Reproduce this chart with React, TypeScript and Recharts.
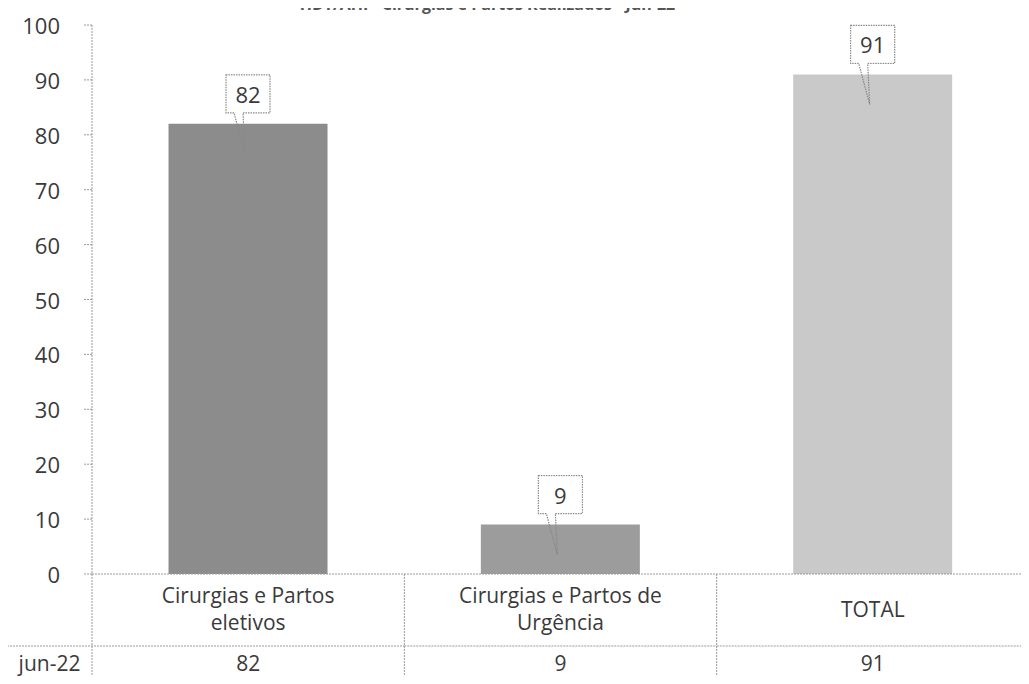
import React from "react";
import { BarChart, Bar, XAxis, YAxis, Cell, LabelList } from "recharts";

const categories = ["Cirurgias e Partos eletivos", "Cirurgias e Partos de Urgência", "TOTAL"];
const categoryLines = [["Cirurgias e Partos", "eletivos"], ["Cirurgias e Partos de", "Urgência"], ["TOTAL"]];
const values = [82, 9, 91];
const seriesName = "jun-22";
const yTicks = [0, 10, 20, 30, 40, 50, 60, 70, 80, 90, 100];
const barColors = ["#8c8c8c", "#9c9c9c", "#c9c9c9"];
const title = "HDT/AHI - Cirurgias e Partos Realizados - Jun-22";

const data = categories.map((c, i) => ({ name: c, value: values[i] }));

const FONT = "'Open Sans', sans-serif";
const LINE = "#9a9a9a";
const DASH = "2 1";
const TEXT = "#3a3a3a";

const YTick = (props: any) => {
  const { x, y, payload } = props;
  return (
    <text x={x - 22} y={y} textAnchor="end" dominantBaseline="central" fontFamily={FONT} fontSize={22} fill={TEXT}>
      {payload.value}
    </text>
  );
};

const XTick = (props: any) => {
  const { x, y, payload, index, width, visibleTicksCount } = props;
  const half = payload.offset || (width / (visibleTicksCount || categories.length)) / 2;
  const lines = categoryLines[index] || [payload.value];
  const rowY = y + 72;
  const bottom = 700;
  const left = x - half;
  const right = x + half;
  const last = index === categories.length - 1;
  return (
    <g>
      {!last && <line x1={right} y1={y} x2={right} y2={bottom} stroke={LINE} strokeDasharray={DASH} />}
      {index === 0 && <line x1={left} y1={y} x2={left} y2={bottom} stroke={LINE} strokeDasharray={DASH} />}
      <line x1={index === 0 ? 7 : left} y1={rowY} x2={right} y2={rowY} stroke={LINE} strokeDasharray={DASH} />
      {index === 0 && (
        <g>
          <line x1={7} y1={rowY} x2={7} y2={bottom} stroke={LINE} strokeDasharray={DASH} />
          <line x1={0} y1={683} x2={64} y2={683} stroke={LINE} strokeDasharray={DASH} />
          <text x={(7 + left) / 2} y={rowY + 17} textAnchor="middle" dominantBaseline="central" fontFamily={FONT} fontSize={21} fill={TEXT}>
            {seriesName}
          </text>
        </g>
      )}
      {lines.length === 1 ? (
        <text x={x} y={y + 35} textAnchor="middle" dominantBaseline="central" fontFamily={FONT} fontSize={21} fill={TEXT}>
          {lines[0]}
        </text>
      ) : (
        lines.map((l: string, i: number) => (
          <text key={i} x={x} y={y + 21 + i * 27} textAnchor="middle" dominantBaseline="central" fontFamily={FONT} fontSize={21} fill={TEXT}>
            {l}
          </text>
        ))
      )}
      <text x={x} y={rowY + 17} textAnchor="middle" dominantBaseline="central" fontFamily={FONT} fontSize={21} fill={TEXT}>
        {values[index]}
      </text>
    </g>
  );
};

const Callout = (props: any) => {
  const { x, y, width, value } = props;
  const cx = x + width / 2;
  const top = y - 49;
  const h = 38;
  const w = 44;
  const b = top + h;
  const l = cx - w / 2;
  const r = cx + w / 2;
  const tipY = y + 30;
  const d = `M${l},${top} H${r} V${b} H${cx - 5} L${cx - 3},${tipY} L${cx - 14},${b} H${l} Z`;
  return (
    <g>
      <path d={d} fill="none" stroke="#888" strokeDasharray="1.5 1" strokeWidth={1.2} />
      <rect x={l + 1} y={top + 1} width={w - 2} height={h - 2} fill="#fff" />
      <text x={cx} y={top + h / 2} textAnchor="middle" dominantBaseline="central" fontFamily={FONT} fontSize={22} fill={TEXT}>
        {value}
      </text>
    </g>
  );
};

export default function App() {
  return (
    <div style={{ position: "relative", margin: -8, width: 1029, height: 684, overflow: "hidden", background: "#fff" }}>
      <BarChart width={1029} height={684} data={data} margin={{ top: 25, right: 0, bottom: 0, left: 0 }} barCategoryGap="24.5%">
        <YAxis
          type="number"
          domain={[0, 100]}
          ticks={yTicks}
          width={92}
          tickSize={8}
          tick={<YTick />}
          axisLine={{ stroke: LINE, strokeDasharray: DASH }}
          tickLine={{ stroke: LINE, strokeDasharray: DASH }}
          interval={0}
        />
        <XAxis
          dataKey="name"
          type="category"
          height={110}
          tickSize={0}
          tickMargin={0}
          tickLine={false}
          interval={0}
          tick={<XTick />}
          axisLine={{ stroke: LINE, strokeDasharray: DASH }}
        />
        <Bar dataKey="value" isAnimationActive={false}>
          {data.map((d, i) => (
            <Cell key={d.name} fill={barColors[i]} />
          ))}
          <LabelList dataKey="value" content={<Callout />} />
        </Bar>
      </BarChart>
      <div
        style={{
          position: "absolute",
          top: -7,
          left: 0,
          width: 975,
          textAlign: "center",
          fontFamily: FONT,
          fontWeight: 700,
          fontSize: 16,
          lineHeight: "22px",
          color: "#555",
          whiteSpace: "nowrap",
          zIndex: 5,
        }}
      >
        {title}
      </div>
    </div>
  );
}
